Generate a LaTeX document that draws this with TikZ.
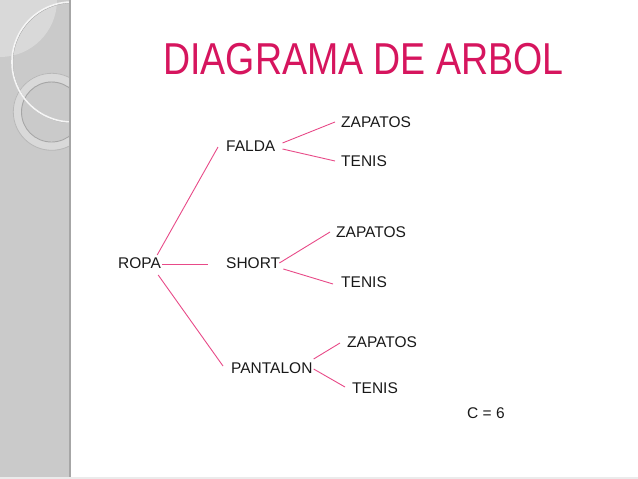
\documentclass[tikz,border=0pt]{standalone}
\usepackage{fontspec}
\setmainfont{Liberation Sans}
\usepackage{graphicx}
\definecolor{titlepink}{HTML}{D6155E}
\definecolor{linepink}{HTML}{E84A88}
\definecolor{panelgray}{HTML}{CACACA}
\definecolor{panellight}{HTML}{D9D9D9}
\definecolor{paneledge}{HTML}{A6A6A6}
\tikzset{
  lbl/.style={inner sep=0pt, anchor=west, font=\fontsize{15.5}{18}\selectfont, text=black!90},
  conn/.style={draw=linepink, line width=0.9pt},
}
\begin{document}
\begin{tikzpicture}[x=1pt,y=-1pt]
\useasboundingbox (0,0) rectangle (638,479);
\fill[white] (0,0) rectangle (638,479);
% left panel
\fill[panelgray] (0,0) rectangle (70,479);
\begin{scope}
  \clip (0,0) rectangle (69,479);
  \fill[panellight] (0,0) circle[radius=57];
  \fill[panellight, even odd rule] (51.5,111.5) circle[radius=38.5] (51.5,111.5) circle[radius=30];
  \draw[paneledge!80, line width=0.8pt] (51.8,111.8) circle[radius=38.5];
  \draw[paneledge, line width=0.9pt] (51.5,112) circle[radius=30];
  \draw[paneledge, line width=1.2pt] (72.5,62.5) circle[radius=60];
  \draw[white!96!black, line width=1.6pt] (72,62) circle[radius=60];
\end{scope}
\fill[paneledge] (68.5,0) rectangle (71,479);
\fill[black!8] (0,476.5) rectangle (638,479);
% title
\node[inner sep=0pt, anchor=west, text=titlepink, font=\fontsize{44.7}{50}\selectfont] (title) at (163,59) {\scalebox{0.84}[1]{DIAGRAMA DE ARBOL}};
% nodes
\node[lbl] (ropa) at (118,263) {ROPA};
\node[lbl] (falda) at (226,146) {FALDA};
\node[lbl] (short) at (226,263) {SHORT};
\node[lbl] (pant) at (231,368) {PANTALON};
\node[lbl] (z1) at (341,122) {ZAPATOS};
\node[lbl] (t1) at (341,161) {TENIS};
\node[lbl] (z2) at (336,232) {ZAPATOS};
\node[lbl] (t2) at (341,282) {TENIS};
\node[lbl] (z3) at (347,342) {ZAPATOS};
\node[lbl] (t3) at (352,388) {TENIS};
\node[lbl] (c) at (467,413) {C = 6};
% connectors
\draw[conn] ([shift={(-4,-8)}]ropa.east) -- ([shift={(-8,1)}]falda.west);
\draw[conn] ([shift={(1,1)}]ropa.east) -- ([shift={(-18,1)}]short.west);
\draw[conn] ([shift={(-3,12)}]ropa.east) -- ([shift={(-8,-2)}]pant.west);
\draw[conn] ([shift={(7,-3)}]falda.east) -- ([shift={(-6,0)}]z1.west);
\draw[conn] ([shift={(7,3)}]falda.east) -- ([shift={(-6,0)}]t1.west);
\draw[conn] ([shift={(-1,0)}]short.east) -- ([shift={(-6,0)}]z2.west);
\draw[conn] ([shift={(3,6)}]short.east) -- ([shift={(-8,2)}]t2.west);
\draw[conn] ([shift={(1,-9)}]pant.east) -- ([shift={(-7,1)}]z3.west);
\draw[conn] ([shift={(1,1)}]pant.east) -- ([shift={(-7,-1)}]t3.west);
\end{tikzpicture}
\end{document}
